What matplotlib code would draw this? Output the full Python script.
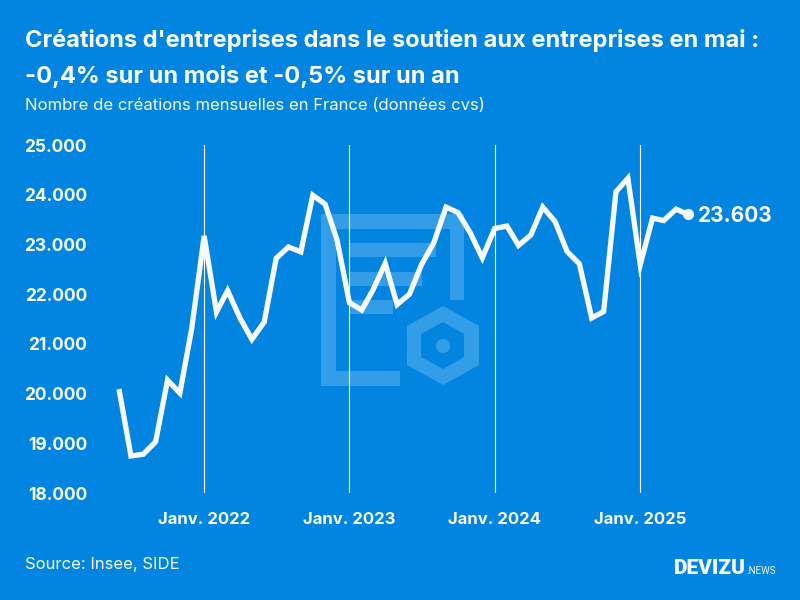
"""
Créations d'entreprises, soutien aux entreprises (Devizu).
"""
import matplotlib
matplotlib.use("Agg")
import matplotlib.pyplot as plt
import matplotlib.patches as patches
import pandas as pd

plt.rcParams["font.family"] = ["Inter", "Roboto", "DejaVu Sans"]

BG = "#0285E1"
LIGHT = "#349DE7"
WHITE = "#F8F9FF"

months = pd.date_range("2021-06-01", "2025-05-01", freq="MS")
values = [
    20090, 18745, 18780, 19030, 20270, 20010, 21320,
    23170, 21640, 22070, 21520, 21090, 21440, 22720, 22950, 22850, 23990, 23810, 23090,
    21830, 21680, 22080, 22620, 21790, 22000, 22590, 23030, 23750, 23640, 23230, 22730,
    23320, 23370, 22980, 23190, 23750, 23460, 22860, 22610, 21520, 21650, 24060, 24330,
    22590, 23530, 23480, 23710, 23603,
]
y_ticks = [18000, 19000, 20000, 21000, 22000, 23000, 24000, 25000]
x_ticks = ["2022-01-01", "2023-01-01", "2024-01-01", "2025-01-01"]
x_labels = ["Janv. 2022", "Janv. 2023", "Janv. 2024", "Janv. 2025"]

fig = plt.figure(figsize=(8, 6), dpi=100)
fig.patch.set_facecolor(BG)

# ---- Watermark, in pixel coordinates ----
bg_ax = fig.add_axes([0, 0, 1, 1], zorder=0)
bg_ax.set_xlim(0, 800)
bg_ax.set_ylim(600, 0)
bg_ax.axis("off")
for x, y, w, h in [
    (321, 214, 15, 172),
    (321, 371, 79, 15),
    (321, 214, 143, 15),
    (450, 214, 14, 86),
    (349, 243, 87, 14),
    (349, 272, 73, 14),
    (349, 300, 44, 14),
]:
    bg_ax.add_patch(patches.Rectangle((x, y), w, h, color=LIGHT, lw=0))
outer = [(443, 306), (479, 326), (479, 365), (443, 385), (407, 365), (407, 326)]
inner = [(443, 322), (464, 334), (464, 357), (443, 369), (421, 357), (421, 334)]
bg_ax.add_patch(patches.Polygon(outer, color=LIGHT, lw=0))
bg_ax.add_patch(patches.Polygon(inner, color=BG, lw=0))
bg_ax.add_patch(patches.Circle((443, 346), 7, color=LIGHT, lw=0))

# ---- Line chart ----
ax = fig.add_axes([119 / 800, 1 - 493 / 600, (688 - 119) / 800, 348 / 600], zorder=1)
ax.patch.set_alpha(0)
ax.plot(months, values, color=WHITE, lw=3.8, solid_joinstyle="miter",
        solid_capstyle="butt", clip_on=False, zorder=3)
ax.plot(months[-1], values[-1], "o", color=WHITE, ms=7, clip_on=False, zorder=4)
ax.annotate(f"{values[-1]:,}".replace(",", "."), (months[-1], values[-1]),
            xytext=(7, -1), textcoords="offset points", ha="left", va="center",
            fontsize=15, fontweight="bold", color=WHITE)

ax.set_xlim(months[0], months[-1])
ax.set_ylim(18000, 25000)
ax.set_yticks(y_ticks)
ax.set_yticklabels([f"{v:,}".replace(",", ".") for v in y_ticks],
                   fontsize=12.5, fontweight="bold", color=WHITE)
ax.set_xticks(pd.to_datetime(x_ticks))
ax.set_xticklabels(x_labels, fontsize=12, fontweight="bold", color=WHITE)
ax.tick_params(axis="y", length=0, pad=23)
ax.tick_params(axis="x", length=0, pad=14)
ax.xaxis.grid(True, color="white", lw=0.8)
ax.set_axisbelow(True)
for spine in ax.spines.values():
    spine.set_visible(False)

# ---- Texts ----
fig.text(25 / 800, 1 - 40 / 600, "Créations d'entreprises dans le soutien aux entreprises en mai :",
         fontsize=17, fontweight="bold", color=WHITE, va="center")
fig.text(25 / 800, 1 - 76 / 600, "-0,4% sur un mois et -0,5% sur un an",
         fontsize=17, fontweight="bold", color=WHITE, va="center")
fig.text(25 / 800, 1 - 106 / 600, "Nombre de créations mensuelles en France (données cvs)",
         fontsize=12, color=WHITE, va="center")
fig.text(25 / 800, 1 - 565 / 600, "Source: Insee, SIDE",
         fontsize=12, color=WHITE, va="center")
fig.text(674 / 800, 1 - 574 / 600, "DEVIZU", fontsize=15, fontweight="black",
         family="Roboto", color=WHITE, va="baseline")
fig.text(746 / 800, 1 - 574 / 600, ".NEWS", fontsize=7, family="Roboto",
         color=WHITE, va="baseline")

fig.savefig("out.png", dpi=100, facecolor=fig.get_facecolor())
